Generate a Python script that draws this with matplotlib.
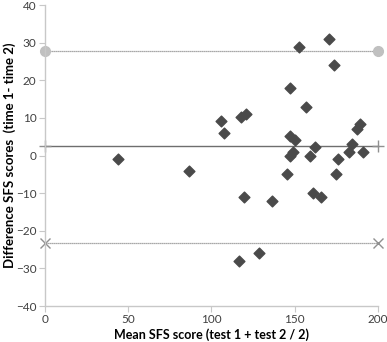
import matplotlib
matplotlib.use('Agg')
import matplotlib.pyplot as plt

# Bland-Altman data
mean_sfs = [44, 86.5, 106, 107.5, 117.5, 120.7, 119.7, 116.5, 128.3, 136.3,
            145.5, 147, 147, 150, 147, 149, 152.8, 156.8, 159.2, 161.1,
            162.2, 166, 170.8, 173.8, 174.6, 175.8, 182.8, 184.6, 187.2, 189.2, 191.2]
diff_sfs = [-1, -4, 9.2, 6, 10.2, 11, -11, -28, -26, -12,
            -5, 18, 5.2, 4.1, -0.1, 1, 29, 13, 0, -10,
            2.3, -11, 31, 24, -5, -1, 1, 3.2, 7, 8.4, 1]

line_x = [0, 200]
mean_diff = 2.5
upper_loa = 27.8
lower_loa = -23.2

plt.rcParams['font.family'] = ['Lato', 'DejaVu Sans']

fig = plt.figure(figsize=(3.87, 3.42), dpi=100)
ax = fig.add_axes([0.116, 0.105, 0.861, 0.88])

ax.plot(line_x, [upper_loa, upper_loa], color='#8c8c8c', linestyle=(0, (1, 0.6)), linewidth=0.9,
        marker='o', markersize=7, markerfacecolor='#c0c0c0', markeredgecolor='#c0c0c0', clip_on=False, zorder=2)
ax.plot(line_x, [mean_diff, mean_diff], color='#6e6e6e', linewidth=1.0,
        marker='+', markersize=8, markeredgecolor='#909090', clip_on=False, zorder=2)
ax.plot(line_x, [lower_loa, lower_loa], color='#8c8c8c', linestyle=(0, (1, 0.6)), linewidth=0.9,
        marker='x', markersize=7, markeredgecolor='#909090', clip_on=False, zorder=2)

ax.scatter(mean_sfs, diff_sfs, marker='D', s=30, color='#4a4a4a', zorder=3, clip_on=False)

ax.set_xlim(0, 200)
ax.set_ylim(-40, 40)
ax.set_xticks([0, 50, 100, 150, 200])
ax.set_yticks([-40, -30, -20, -10, 0, 10, 20, 30, 40])

for s in ['top', 'right']:
    ax.spines[s].set_visible(False)
for s in ['left', 'bottom']:
    ax.spines[s].set_color('#c8c8c8')
    ax.spines[s].set_linewidth(1.0)
ax.tick_params(colors='#c8c8c8', labelcolor='#404040', labelsize=8.5, length=4, width=0.8, pad=2)

ax.set_xlabel('Mean SFS score (test 1 + test 2 / 2)', fontsize=9, fontweight='bold', color='black')
ax.set_ylabel('Difference SFS scores  (time 1- time 2)', fontsize=9.5, fontweight='bold', color='black')
ax.xaxis.set_label_coords(0.5, -0.075)
ax.yaxis.set_label_coords(-0.088, 0.5)

plt.savefig('out.png', dpi=100)
